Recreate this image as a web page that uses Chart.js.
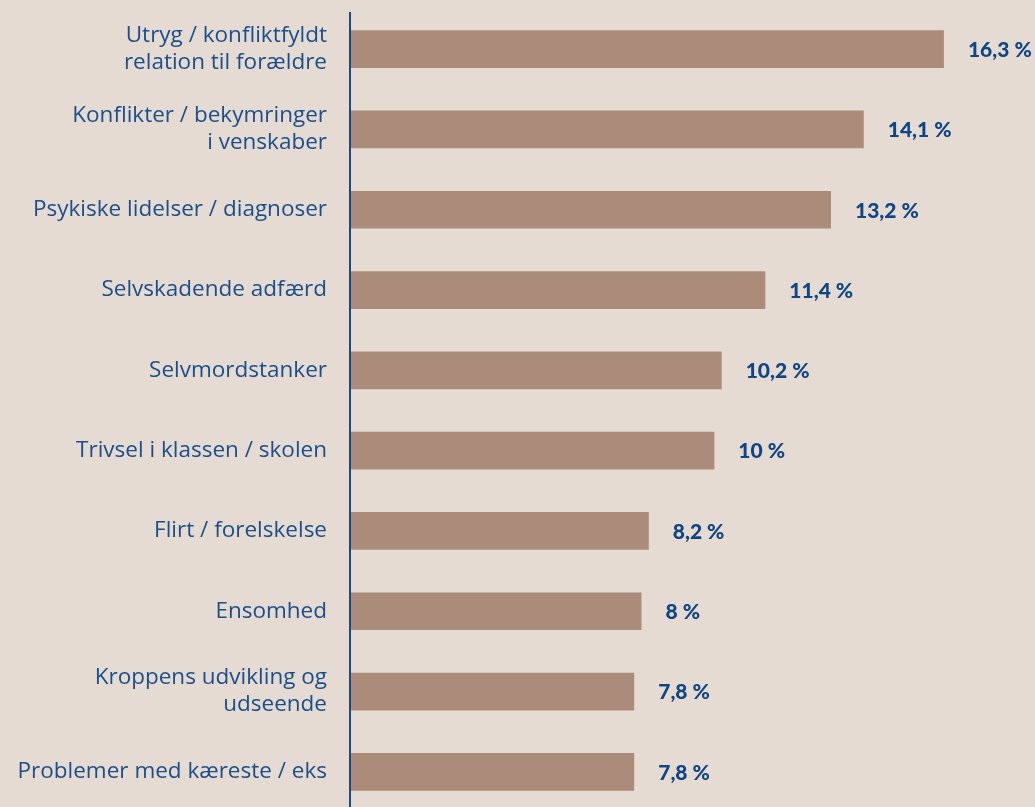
<!DOCTYPE html>
<html>
<head>
<meta charset="utf-8">
<script src="https://cdn.jsdelivr.net/npm/chart.js@4/dist/chart.umd.min.js"></script>
<style>
  html, body { margin: 0; padding: 0; background: #e5dbd2; overflow: hidden; }
  #wrap { width: 1035px; height: 812px; position: relative; }
</style>
</head>
<body>
<div id="wrap"><canvas id="c"></canvas></div>
<script>
const categories = [
  ["Utryg / konfliktfyldt", "relation til forældre"],
  ["Konflikter / bekymringer", "i venskaber"],
  "Psykiske lidelser / diagnoser",
  "Selvskadende adfærd",
  "Selvmordstanker",
  "Trivsel i klassen / skolen",
  "Flirt / forelskelse",
  "Ensomhed",
  ["Kroppens udvikling og", "udseende"],
  "Problemer med kæreste / eks"
];
const values = [16.3, 14.1, 13.2, 11.4, 10.2, 10, 8.2, 8, 7.8, 7.8];
const valueLabels = values.map(v => String(v).replace('.', ',') + ' %');

const valueLabelPlugin = {
  id: 'valueLabels',
  afterDatasetsDraw(chart) {
    const ctx = chart.ctx;
    const meta = chart.getDatasetMeta(0);
    ctx.save();
    ctx.fillStyle = '#0d4586';
    ctx.font = '900 21px Lato';
    ctx.textAlign = 'left';
    ctx.textBaseline = 'middle';
    meta.data.forEach((bar, i) => {
      ctx.fillText(valueLabels[i], bar.x + 24, bar.y + 1);
    });
    ctx.restore();
  }
};

const axisLinePlugin = {
  id: 'axisLine',
  afterDraw(chart) {
    const ctx = chart.ctx;
    const a = chart.chartArea;
    ctx.save();
    ctx.strokeStyle = '#1b4a80';
    ctx.lineWidth = 2;
    ctx.beginPath();
    ctx.moveTo(a.left, 12);
    ctx.lineTo(a.left, chart.height);
    ctx.stroke();
    ctx.restore();
  }
};

new Chart(document.getElementById('c'), {
  type: 'bar',
  data: {
    labels: categories,
    datasets: [{
      data: values,
      backgroundColor: '#ab8c7a',
      borderWidth: 0,
      barPercentage: 0.47,
      categoryPercentage: 1.0
    }]
  },
  options: {
    indexAxis: 'y',
    responsive: true,
    maintainAspectRatio: false,
    animation: false,
    layout: { padding: { top: 9, bottom: 0, left: 0, right: 0 } },
    plugins: { legend: { display: false }, tooltip: { enabled: false } },
    scales: {
      x: { display: false, min: 0, max: 18.8 },
      y: {
        grid: { display: false, drawTicks: false },
        border: { display: false },
        ticks: {
          color: '#1b4f8b',
          font: { family: 'Open Sans', size: 22.5, lineHeight: 1.2 },
          padding: 23,
          autoSkip: false
        },
        afterFit(scale) {
          scale.width = 350;
          scale.paddingTop = 0;
          scale.paddingBottom = 0;
        }
      }
    }
  },
  plugins: [valueLabelPlugin, axisLinePlugin]
});
</script>
</body>
</html>
